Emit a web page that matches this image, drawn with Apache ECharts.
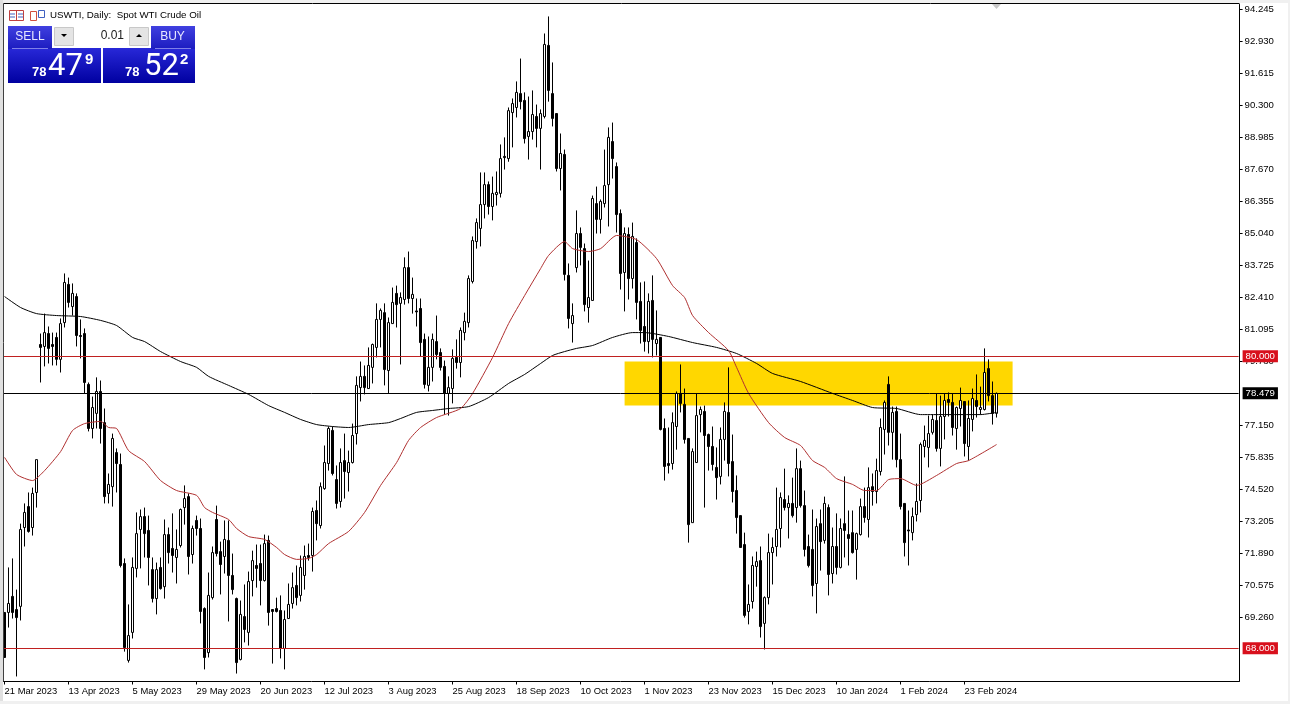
<!DOCTYPE html>
<html><head><meta charset="utf-8">
<style>html,body{margin:0;padding:0;background:#fff}#c{width:1290px;height:704px}</style>
<script src="https://cdn.jsdelivr.net/npm/echarts@6/dist/echarts.min.js"></script>
</head><body><div id="c"></div>
<script>
// Each row: open, close, low, high
const seg0=[[69.47,67.62,67.62,69.47],[69.47,69.84,68.85,71.32],[70.13,69.47,69.22,71.69],[69.59,69.26,66.84,70.41],[69.72,72.88,69.14,73.12],[72.96,73.58,72.18,73.95],[73.82,72.80,72.75,74.40],[72.96,74.36,72.63,74.60],[74.40,75.75,73.78,75.75],[80.48,80.36,78.92,80.93],[80.40,80.97,79.58,81.75],[80.93,80.32,79.70,81.22],[80.48,80.40,79.62,80.97],[80.77,79.87,79.62,80.97],[79.87,81.34,79.33,81.55],[81.38,83.03,81.18,83.40]];
const seg1=[[82.95,82.21,82.00,83.23],[82.04,82.58,81.67,82.99],[82.45,80.85,80.40,82.58],[80.85,80.81,79.91,81.51],[80.93,78.92,78.47,81.14],[78.84,77.03,76.91,78.92],[77.03,77.89,76.62,78.34],[77.65,78.55,77.03,79.13],[78.55,77.03,76.41,79.00],[77.27,74.23,73.95,77.85],[74.36,74.73,73.95,75.18],[74.64,76.62,73.82,76.82],[76.04,75.59,74.40,76.21],[75.55,71.40,71.32,76.00],[71.48,68.03,67.86,71.69],[67.50,68.52,67.41,69.80]];
const seg2=[[68.65,71.32,68.40,71.73],[71.28,72.71,70.91,73.58],[72.88,73.41,71.28,73.70],[73.41,72.71,71.73,73.78],[72.84,71.73,70.58,73.45],[71.23,70.04,69.88,71.73],[70.04,71.23,69.39,71.52],[71.32,70.45,70.41,71.73],[70.53,72.67,70.04,73.29],[72.67,71.93,71.48,72.96],[72.10,71.81,71.11,73.54],[71.73,72.06,70.66,72.88],[72.22,73.70,72.14,73.74],[73.78,74.15,73.08,74.69],[74.23,71.77,71.03,74.36],[71.85,72.92,71.48,73.04]];
const seg3=[[73.25,72.92,72.63,73.45],[72.92,69.51,69.02,73.33],[69.63,67.62,67.13,69.68],[67.82,70.17,67.62,71.11],[70.08,71.93,70.00,72.18],[73.29,71.89,71.77,73.86],[71.97,71.44,70.21,72.38],[71.77,72.47,71.07,73.25],[72.43,70.99,69.10,73.25],[70.99,70.41,70.21,71.89],[70.04,67.41,66.96,70.08],[67.54,69.39,67.50,69.96],[69.30,68.77,68.24,70.62],[68.65,70.74,68.11,71.15],[70.78,71.60,70.13,72.01],[71.40,71.28,70.49,72.26]];
const seg4=[[71.48,70.78,69.76,72.26],[70.78,72.30,70.74,72.67],[72.43,69.47,68.93,72.63],[69.59,69.51,67.37,69.59],[69.63,69.51,69.47,70.08],[69.55,67.99,67.58,70.17],[67.99,69.18,67.13,69.55],[69.22,69.80,69.22,70.66],[69.84,70.49,69.63,71.11],[70.58,70.08,69.76,71.40],[70.17,71.32,69.92,71.81],[70.99,71.77,70.41,72.22],[71.81,71.73,71.60,72.30],[71.81,73.62,71.15,73.78],[73.66,73.12,72.43,74.07],[73.04,74.64,72.92,74.81]];
const seg5=[[74.56,75.63,74.51,76.33],[75.59,77.03,75.30,77.11],[76.95,75.18,75.10,77.11],[74.93,73.95,73.74,75.51],[74.03,75.63,73.78,76.21],[75.71,75.26,74.15,76.82],[75.22,75.63,74.44,76.12],[75.63,76.74,75.59,77.23],[76.82,78.80,76.37,79.17],[78.71,79.17,78.14,79.78],[79.17,78.71,78.43,79.62],[78.67,79.62,78.67,80.36],[79.54,80.48,78.88,80.52],[80.36,81.51,79.95,82.17],[81.51,81.88,80.36,81.96],[81.79,79.45,78.80,82.17]];
const seg6=[[79.41,81.38,78.47,81.59],[81.34,82.21,81.34,82.82],[82.58,82.12,81.18,82.90],[82.17,82.41,79.66,82.62],[82.33,83.64,82.12,84.06],[83.64,82.37,82.17,84.30],[82.37,82.54,81.75,83.23],[81.86,81.82,81.22,82.37],[81.96,80.56,79.99,82.37],[80.69,78.84,78.67,80.93],[78.80,79.54,78.55,80.81],[79.54,80.69,78.96,80.93],[80.60,80.07,79.87,81.67],[80.15,79.54,79.41,80.32],[79.58,78.47,77.60,79.82],[78.47,78.71,77.56,79.17]];
const seg7=[[78.67,79.91,78.06,80.28],[79.95,79.74,79.49,80.69],[79.74,81.06,79.13,81.18],[80.97,81.43,80.65,81.79],[81.38,83.19,81.18,83.32],[83.07,84.75,82.99,84.92],[84.71,85.49,84.42,85.66],[85.25,86.23,84.51,87.55],[86.23,87.05,85.66,87.55],[87.05,86.15,85.82,87.18],[86.15,86.69,85.58,87.38],[86.64,86.73,86.19,87.59],[86.69,88.12,86.52,88.70],[88.21,88.16,87.67,88.99],[88.12,90.09,87.99,90.22],[90.01,90.38,88.58,90.59]];
const seg8=[[90.22,90.84,89.81,91.29],[90.79,90.46,90.14,92.23],[90.51,88.94,88.74,90.84],[89.03,89.23,88.08,90.67],[89.23,89.93,88.90,90.92],[89.85,89.36,88.58,90.34],[89.36,89.97,87.67,90.14],[89.85,92.81,89.77,93.26],[92.77,90.92,90.46,93.96],[90.79,89.77,89.44,92.07],[89.97,87.71,87.59,89.97],[87.71,88.33,86.81,89.15],[88.29,83.36,83.11,88.49],[83.32,81.55,81.14,83.81],[81.34,81.67,80.56,82.17],[83.64,85.04,83.44,85.99]];
const seg9=[[85.04,84.47,83.73,85.29],[84.42,82.12,81.84,84.63],[82.00,82.41,81.38,83.93],[82.29,86.48,82.29,86.60],[86.27,85.62,85.04,86.97],[85.62,86.36,85.04,86.44],[86.27,87.01,86.11,88.49],[87.05,88.99,85.33,89.40],[88.82,88.12,87.30,89.60],[87.79,85.82,85.08,87.96],[85.86,83.40,82.74,86.03],[83.44,85.04,81.84,85.29],[85.00,83.19,82.33,85.29],[83.19,84.92,82.78,85.49],[84.67,82.21,81.51,84.84],[82.25,81.06,80.52,83.03]];
const seg10=[[81.22,80.60,80.19,83.07],[80.60,82.25,80.11,82.58],[82.29,80.69,79.95,83.32],[80.52,80.69,80.03,81.88],[80.77,76.99,76.95,80.77],[77.03,75.47,74.89,77.44],[75.59,75.51,75.18,77.07],[75.59,77.27,75.34,77.69],[77.11,78.47,76.16,78.55],[78.47,78.06,77.69,79.66],[78.02,76.58,76.41,78.67],[76.62,73.08,72.34,76.62],[73.16,76.08,73.16,76.21],[75.63,77.56,75.63,78.47],[77.60,77.81,76.87,77.93],[77.73,76.74,73.78,77.97]];
const seg11=[[76.78,76.29,75.30,76.82],[76.29,75.55,75.30,77.11],[75.43,75.01,74.11,76.25],[75.06,76.58,74.73,77.07],[76.58,77.73,75.71,78.10],[77.69,75.59,75.06,79.54],[75.67,74.44,73.99,76.78],[74.48,73.37,72.71,75.10],[73.45,72.14,72.14,73.45],[72.26,69.35,69.26,72.75],[69.51,69.80,68.98,70.62],[69.92,71.40,69.63,71.77],[71.36,71.56,70.53,71.97],[71.60,68.89,68.44,72.18],[69.02,70.08,67.95,70.13],[70.08,71.93,69.80,72.71]];
const seg12=[[71.93,72.14,70.62,72.55],[72.18,72.88,71.77,74.60],[72.92,74.19,72.14,74.40],[74.11,73.78,73.66,75.38],[73.78,73.95,72.51,74.28],[73.95,73.45,73.37,75.01],[73.78,75.38,73.16,76.21],[75.38,73.86,73.78,75.71],[73.86,72.06,71.77,74.48],[72.18,71.40,71.32,72.67],[72.06,70.58,70.13,73.70],[70.66,73.00,69.43,73.33],[73.12,72.38,71.19,73.70],[72.43,73.95,72.30,74.23],[73.78,71.03,70.17,73.91],[71.07,72.18,70.66,72.96]];
const seg13=[[72.18,71.32,71.03,73.54],[71.32,72.92,71.28,73.33],[73.12,72.84,71.73,75.06],[72.67,72.51,71.40,73.66],[72.75,71.93,71.89,73.66],[72.06,72.71,70.82,72.75],[72.67,73.82,72.63,74.15],[73.82,73.37,73.16,74.60],[73.29,74.60,72.55,75.43],[74.64,74.44,73.86,75.18],[74.44,75.30,73.95,75.79],[75.26,77.07,75.10,77.44],[76.99,78.10,75.96,78.18],[78.84,76.87,76.33,79.17],[76.87,77.69,75.75,77.93],[77.73,75.75,75.43,77.93]];
const seg14=[[75.75,73.82,73.70,76.82],[73.95,72.34,71.77,73.95],[72.86,72.82,71.40,73.66],[72.75,73.41,72.43,73.78],[73.49,74.03,73.21,74.77],[74.07,76.37,73.58,76.45],[76.29,76.54,75.84,77.15],[76.25,76.82,75.43,77.56],[76.87,77.40,76.78,77.60],[77.36,76.21,76.08,78.47],[76.21,77.52,75.47,78.38],[77.52,78.18,76.58,78.47],[78.22,78.10,77.52,78.51],[78.10,77.07,76.74,78.47],[77.03,77.89,76.16,77.93],[77.85,78.18,77.11,78.71]];
const seg15=[[78.14,76.41,75.88,78.14],[76.29,77.44,75.71,78.18],[77.40,78.26,76.91,78.67],[78.18,77.93,77.48,79.25],[77.81,77.89,77.60,78.75],[77.81,79.33,77.77,80.32],[79.49,78.38,78.14,79.87],[78.38,77.65,77.19,78.96],[77.65,78.47,77.48,78.51]];

// Moving averages: [bar index, price]
const maSlow=[[0,82.45],[4,82.0],[8,81.75],[13,81.67],[19,81.63],[24,81.47],[28,81.26],[32,80.77],[35,80.60],[39,80.19],[44,79.78],[48,79.54],[51,79.17],[56,78.80],[61,78.43],[66,77.97],[70,77.69],[74,77.40],[78,77.19],[82,77.11],[86,77.07],[91,77.19],[96,77.27],[99,77.44],[103,77.69],[107,77.77],[111,77.85],[116,77.93],[121,78.30],[126,78.88],[130,79.25],[134,79.70],[137,80.03],[140,80.19],[143,80.32],[147,80.44],[152,80.77],[157,80.97],[160,80.97],[166,80.81],[172,80.56],[178,80.36],[183,80.11],[188,79.70],[192,79.29],[199,78.96],[207,78.47],[212,78.18],[217,77.89],[223,77.85],[229,77.60],[234,77.60],[244,77.60],[248,77.69]];
const maFast=[[0,75.84],[3,75.14],[7,74.89],[10,75.30],[14,76.08],[17,76.95],[20,77.23],[24,77.32],[26,77.07],[28,77.03],[31,76.12],[35,75.67],[39,74.89],[43,74.48],[48,74.28],[50,73.78],[52,73.58],[56,73.29],[58,72.92],[61,72.59],[65,72.47],[68,72.14],[70,71.85],[73,71.65],[76,71.69],[78,71.85],[81,72.30],[86,72.80],[90,73.58],[94,74.69],[98,75.63],[101,76.54],[104,77.07],[108,77.48],[114,77.85],[117,78.47],[122,79.95],[126,81.34],[130,82.49],[134,83.60],[136,84.14],[140,84.71],[142,84.42],[146,84.30],[149,84.42],[153,84.96],[158,84.79],[163,84.01],[167,82.90],[170,82.41],[172,81.67],[176,80.97],[181,80.23],[183,79.54],[186,78.47],[191,77.27],[195,76.66],[199,76.33],[202,75.71],[205,75.43],[208,74.97],[212,74.73],[215,74.48],[218,74.48],[221,74.93],[224,74.97],[228,74.69],[233,75.10],[238,75.59],[241,75.71],[248,76.37]];

const dateLabels=['21 Mar 2023','13 Apr 2023','5 May 2023','29 May 2023','20 Jun 2023','12 Jul 2023','3 Aug 2023','25 Aug 2023','18 Sep 2023','10 Oct 2023','1 Nov 2023','23 Nov 2023','15 Dec 2023','10 Jan 2024','1 Feb 2024','23 Feb 2024'];
const priceTicks=[94.245,92.930,91.615,90.300,88.985,87.670,86.355,85.040,83.725,82.410,81.095,79.780,77.150,75.835,74.520,73.205,71.890,70.575,69.260];
const levelRed=[80.000,68.000];
const levelBid=78.479;
const zoneTop=79.78, zoneBottom=77.97, zoneFromBar=155, zoneToBar=252;
const yMin=66.633, yMax=94.451;
const slotCount=309, ticksEvery=16;

const candles=[].concat(seg0,seg1,seg2,seg3,seg4,seg5,seg6,seg7,seg8,seg9,seg10,seg11,seg12,seg13,seg14,seg15);
const cats=[];for(let i=0;i<slotCount;i++){cats.push(i%ticksEvery===0&&dateLabels[i/ticksEvery]?dateLabels[i/ticksEvery]:'');}
const FONT='"Liberation Sans"';
const RED='#c02020', TAG='#d8101c';
const chart=echarts.init(document.getElementById('c'),null,{renderer:'canvas'});
const showTick=i=>i%ticksEvery===0&&i/ticksEvery<dateLabels.length;
function priceTag(v,bg){return {yAxis:v,
 label:{show:true,position:'end',distance:4,formatter:v.toFixed(3),color:'#fff',backgroundColor:bg,fontFamily:FONT,fontSize:9.6,padding:[1,3,1,3],lineHeight:10}};}
const grad=(a,b)=>({type:'linear',x:0,y:0,x2:0,y2:1,colorStops:[{offset:0,color:a},{offset:1,color:b}]});
const txt=(x,y,t,size,o)=>Object.assign({type:'text',x,y,z:30,style:Object.assign({text:t,fill:'#fff',fontFamily:FONT,fontSize:size,textVerticalAlign:'middle'},o||{})});
const rect=(x,y,w,h,fill,o)=>Object.assign({type:'rect',z:29,shape:{x,y,width:w,height:h},style:Object.assign({fill},o||{})});
const line=(x1,y1,x2,y2,c)=>({type:'line',z:30,shape:{x1,y1,x2,y2},style:{stroke:c,lineWidth:1}});
chart.setOption({
 animation:false,
 backgroundColor:'#fff',
 grid:{left:2.6,top:4.5,width:1236,height:677,show:false},
 xAxis:{type:'category',data:cats,boundaryGap:true,
  axisLine:{show:true,lineStyle:{color:'#000',width:1}},
  axisTick:{show:true,alignWithLabel:true,length:3,interval:i=>showTick(i),lineStyle:{color:'#000'}},
  axisLabel:{show:true,interval:i=>showTick(i),align:'left',margin:5,color:'#000',fontFamily:FONT,fontSize:9.4,hideOverlap:false},
  splitLine:{show:false}},
 yAxis:{type:'value',position:'right',offset:1,min:yMin,max:yMax,scale:true,
  axisLine:{show:true,onZero:false,lineStyle:{color:'#000',width:1}},
  axisTick:{show:true,length:3,customValues:priceTicks,lineStyle:{color:'#000'}},
  axisLabel:{show:true,customValues:priceTicks,margin:5,color:'#000',fontFamily:FONT,fontSize:9.6,padding:[2,0,0,0],formatter:v=>v.toFixed(3),hideOverlap:false},
  splitLine:{show:false}},
 series:[
  {type:'line',name:'zone',data:[],z:1,silent:true,
   markArea:{silent:true,itemStyle:{color:'#FFD700',opacity:1},data:[[{xAxis:zoneFromBar,yAxis:zoneTop},{xAxis:zoneToBar,yAxis:zoneBottom}]]}},
  {type:'candlestick',name:'USWTI',data:candles,z:3,barWidth:3,silent:true,
   itemStyle:{color:'#fff',color0:'#000',borderColor:'#000',borderColor0:'#000',borderWidth:1}},
  {type:'line',name:'MA slow',data:maSlow,z:4,silent:true,showSymbol:false,smooth:0.2,lineStyle:{color:'#000',width:1}},
  {type:'line',name:'MA fast',data:maFast,z:4,silent:true,showSymbol:false,smooth:0.2,lineStyle:{color:'#b03030',width:1}},
  {type:'line',name:'red levels',data:[],z:5,silent:true,
   markLine:{silent:true,symbol:'none',animation:false,lineStyle:{color:RED,width:1.2,type:'solid'},data:[priceTag(levelRed[0],TAG),priceTag(levelRed[1],TAG)]}},
  {type:'line',name:'bid',data:[],z:5,silent:true,
   markLine:{silent:true,symbol:'none',animation:false,lineStyle:{color:'#000',width:1,type:'solid'},data:[priceTag(levelBid,'#000')]}}
 ],
 graphic:[
  // outer window edge and chart frame
  rect(0,0,1290,3,'#f0f0f0'),rect(0,0,3,704,'#e0e0e0'),rect(0,701,1290,3,'#f0f0f0'),rect(1288,0,2,704,'#f0f0f0'),
  line(3.5,3.5,1239.5,3.5,'#000'),line(3.5,3.5,3.5,681.5,'#404040'),
  // shift marker
  {type:'polygon',z:29,shape:{points:[[992,4],[1001,4],[996.5,9]]},style:{fill:'#c8c8c8'}},
  // title icons
  rect(9.5,10.5,14,10,'#fff',{stroke:'#c04040',lineWidth:1}),line(16.5,11,16.5,20,'#c04040'),line(10,14,15,14,'#4060c0'),line(18,14,23,14,'#4060c0'),line(10,17,15,17,'#4060c0'),line(18,17,23,17,'#4060c0'),
  rect(30.5,11.5,6,9,'#fff',{stroke:'#d05040',lineWidth:1}),rect(38.5,10.5,6,7,'#fff',{stroke:'#4060c0',lineWidth:1}),
  txt(50,15.5,'USWTI, Daily:  Spot WTI Crude Oil',9.75,{fill:'#000'}),
  // trade panel
  rect(8,48,93,35,grad('#2828d8','#0000a0')),rect(103,48,92,35,grad('#2828d8','#0000a0')),
  rect(8,26,44,23,grad('#4040e0','#1c1cc0')),rect(151,26,44,23,grad('#4040e0','#1c1cc0')),
  line(12,48.5,48,48.5,'#8080e8'),line(155,48.5,191,48.5,'#8080e8'),
  rect(52,26,99,22,'#fff'),
  rect(54.5,27.5,19,18,'#e4e4e4',{stroke:'#c8c8c8',lineWidth:1}),rect(129.5,27.5,19,18,'#e4e4e4',{stroke:'#c8c8c8',lineWidth:1}),
  {type:'polygon',z:30,shape:{points:[[61,34],[67,34],[64,37]]},style:{fill:'#000'}},
  {type:'polygon',z:30,shape:{points:[[136,37],[142,37],[139,34]]},style:{fill:'#000'}},
  txt(124,36,'0.01',12,{fill:'#202020',textAlign:'right'}),
  txt(30,37,'SELL',12,{fill:'#e8e8ff',textAlign:'center'}),txt(172.5,37,'BUY',12,{fill:'#e8e8ff',textAlign:'center'}),
  txt(32,72,'78',13,{fontWeight:'bold'}),txt(48,67,'47',31,{fontFamily:'Roboto'}),txt(85,60,'9',15,{fontWeight:'bold'}),
  txt(125,72,'78',13,{fontWeight:'bold'}),txt(144,67,'52',31,{fontFamily:'Roboto'}),txt(180,60,'2',15,{fontWeight:'bold'})
 ]
});
</script></body></html>
